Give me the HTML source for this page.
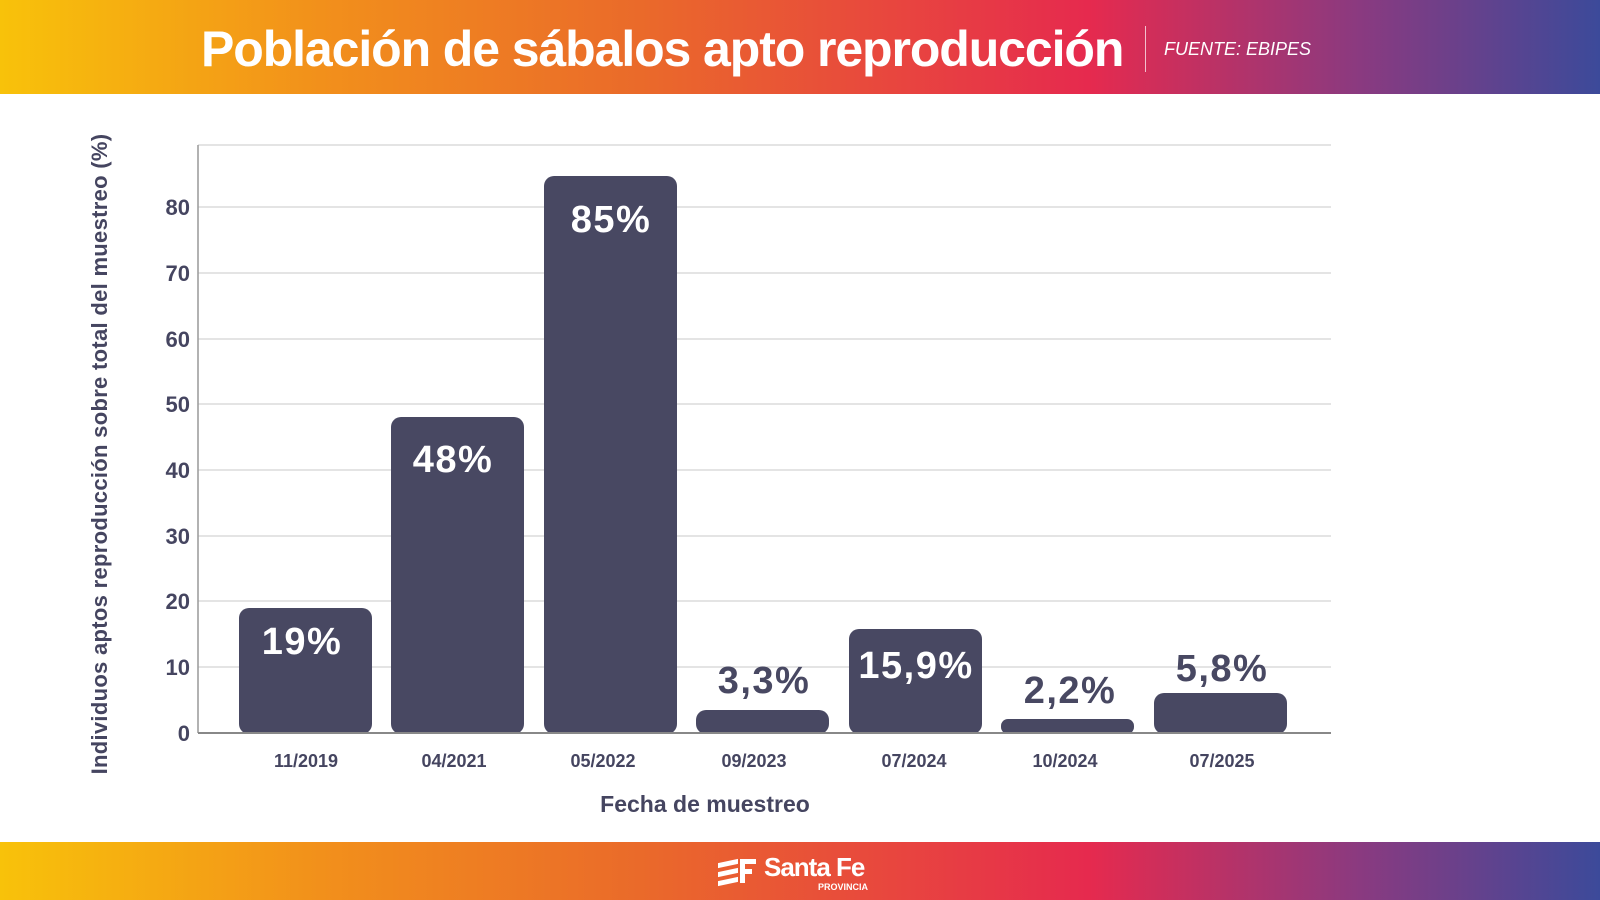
<!DOCTYPE html>
<html><head><meta charset="utf-8"><style>
body{margin:0;width:1600px;height:900px;overflow:hidden;background:#fff;font-family:"Liberation Sans",sans-serif}
.band{position:absolute;left:0;width:1600px;background:linear-gradient(90deg,#f8c20a 0%,#f2901b 20%,#ea6a2a 40%,#e62a4e 68%,#8a3a80 85%,#3c4a9a 100%)}
</style></head><body>
<div class="band" style="top:0;height:94px"></div>
<div style="position:absolute;left:201px;top:18px;color:#fff;font-weight:bold;font-size:50px;letter-spacing:-1.1px;line-height:62px;white-space:nowrap">Población de sábalos apto reproducción</div>
<div style="position:absolute;left:1145px;top:26px;width:1px;height:46px;background:rgba(255,255,255,.7)"></div>
<div style="position:absolute;left:1164px;top:39px;color:#fff;font-style:italic;font-size:18px">FUENTE: EBIPES</div>
<div class="band" style="top:842px;height:58px"></div>
<div style="position:absolute;left:718px;top:857px;width:38px;height:32px">
<div style="position:absolute;left:0;top:4px;width:20px;height:5px;background:#fff;transform:skewY(-12deg)"></div>
<div style="position:absolute;left:0;top:13px;width:20px;height:5px;background:#fff;transform:skewY(-12deg)"></div>
<div style="position:absolute;left:0;top:22px;width:20px;height:5px;background:#fff;transform:skewY(-12deg)"></div>
<div style="position:absolute;left:22px;top:2px;width:16px;height:5px;background:#fff"></div>
<div style="position:absolute;left:22px;top:12px;width:12px;height:5px;background:#fff"></div>
<div style="position:absolute;left:22px;top:2px;width:5px;height:24px;background:#fff"></div>
</div>
<div style="position:absolute;left:764px;top:852px;color:#fff;font-weight:bold;font-size:26px;letter-spacing:-1px">Santa Fe</div>
<div style="position:absolute;left:818px;top:882px;color:#fff;font-weight:bold;font-size:9px">PROVINCIA</div>
<svg width="1600" height="900" style="position:absolute;left:0;top:0" font-family="Liberation Sans, sans-serif" font-weight="bold">
<g stroke="#dcdcdc" stroke-width="1.5">
<line x1="198" x2="1331" y1="145" y2="145"/>
<line x1="198" x2="1331" y1="207" y2="207"/>
<line x1="198" x2="1331" y1="273" y2="273"/>
<line x1="198" x2="1331" y1="339" y2="339"/>
<line x1="198" x2="1331" y1="404" y2="404"/>
<line x1="198" x2="1331" y1="470" y2="470"/>
<line x1="198" x2="1331" y1="536" y2="536"/>
<line x1="198" x2="1331" y1="601" y2="601"/>
<line x1="198" x2="1331" y1="667" y2="667"/>
</g>
<line x1="198" x2="198" y1="145" y2="733" stroke="#999" stroke-width="1.5"/>
<g fill="#454560" font-size="22" text-anchor="end">
<text x="190" y="741">0</text><text x="190" y="675">10</text><text x="190" y="609">20</text><text x="190" y="544">30</text><text x="190" y="478">40</text><text x="190" y="412">50</text><text x="190" y="347">60</text><text x="190" y="281">70</text><text x="190" y="215">80</text>
</g>
<g fill="#484862">
<rect x="239" y="608" width="133" height="126" rx="10"/>
<rect x="391" y="417" width="133" height="317" rx="10"/>
<rect x="544" y="176" width="133" height="558" rx="10"/>
<rect x="696" y="710" width="133" height="24" rx="10"/>
<rect x="849" y="629" width="133" height="105" rx="10"/>
<rect x="1001" y="719" width="133" height="15" rx="7"/>
<rect x="1154" y="693" width="133" height="41" rx="10"/>
</g>
<line x1="198" x2="1331" y1="733" y2="733" stroke="#888" stroke-width="2"/>
<g font-size="38" text-anchor="middle" letter-spacing="1.5">
<text x="302" y="654" fill="#fff">19%</text>
<text x="453" y="472" fill="#fff">48%</text>
<text x="611" y="232" fill="#fff">85%</text>
<text x="764" y="693" fill="#484862">3,3%</text>
<text x="916" y="678" fill="#fff">15,9%</text>
<text x="1070" y="703" fill="#484862">2,2%</text>
<text x="1222" y="681" fill="#484862">5,8%</text>
</g>
<g fill="#454560" font-size="18" text-anchor="middle">
<text x="306" y="767">11/2019</text><text x="454" y="767">04/2021</text><text x="603" y="767">05/2022</text><text x="754" y="767">09/2023</text><text x="914" y="767">07/2024</text><text x="1065" y="767">10/2024</text><text x="1222" y="767">07/2025</text>
</g>
<text x="705" y="812" fill="#454560" font-size="23" text-anchor="middle">Fecha de muestreo</text>
<text transform="translate(107,454) rotate(-90)" fill="#454560" font-size="22" text-anchor="middle" letter-spacing="0.3">Individuos aptos reproducción sobre total del muestreo (%)</text>
</svg>
</body></html>
